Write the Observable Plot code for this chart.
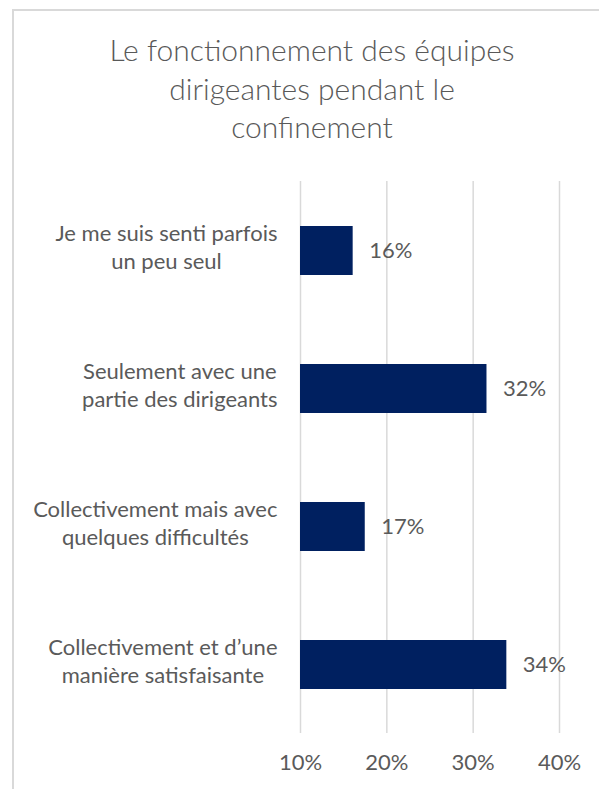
<!DOCTYPE html>
<html>
<head>
<meta charset="utf-8">
<script src="https://cdn.jsdelivr.net/npm/d3@7"></script>
<script src="https://cdn.jsdelivr.net/npm/@observablehq/plot@0.6"></script>
<style>
  html, body { margin: 0; padding: 0; background: #ffffff; }
  #wrap { position: relative; width: 599px; height: 789px; overflow: hidden; background: #fff; }
  #frame { position: absolute; left: 12px; top: 9px; width: 640px; height: 820px; border: 2px solid #d9d9d9; box-sizing: border-box; }
  #title { position: absolute; left: 12px; width: 600px; top: 30px; text-align: center;
           font-family: Lato, "Open Sans", sans-serif; font-weight: 300; font-size: 30px; line-height: 38.5px; color: #595959; }
  #chart { position: absolute; left: 0; top: 170px; }
</style>
</head>
<body>
<div id="wrap">
  <div id="frame"></div>
  <div id="title"></div>
  <div id="chart"></div>
</div>
<script>
const titleLines = ["Le fonctionnement des équipes", "dirigeantes pendant le", "confinement"];
const categories = [
  "Je me suis senti parfois\nun peu seul",
  "Seulement avec une\npartie des dirigeants",
  "Collectivement mais avec\nquelques difficultés",
  "Collectivement et d’une\nmanière satisfaisante"
];
const values = [16.1, 31.6, 17.5, 33.9];
const valueLabels = ["16%", "32%", "17%", "34%"];
const xTicks = [10, 20, 30, 40];
const xTickLabels = ["10%", "20%", "30%", "40%"];
const baseline = 10;

const titleEl = document.getElementById("title");
titleLines.forEach(l => { const d = document.createElement("div"); d.textContent = l; titleEl.appendChild(d); });

const data = categories.map((c, i) => ({category: c, value: values[i], label: valueLabels[i]}));

const chart = Plot.plot({
  width: 599,
  height: 619,
  marginTop: 11,
  marginBottom: 56,
  marginLeft: 300,
  marginRight: 40,
  style: {fontFamily: "Lato, 'Open Sans', sans-serif", fontSize: "22px", color: "#595959", background: "transparent", overflow: "visible"},
  x: {domain: [10, 40], label: null},
  y: {domain: categories, paddingInner: 0.645, paddingOuter: 0.3225, label: null},
  marks: [
    Plot.gridX(xTicks, {stroke: "#d9d9d9", strokeOpacity: 1, strokeWidth: 1.5}),
    Plot.barX(data, {x1: () => baseline, x2: "value", y: "category", fill: "#002060"}),
    Plot.text(data, {x: "value", y: "category", text: "label", dx: 16, textAnchor: "start", fill: "#5a5a5a", fontSize: 22}),
    Plot.axisX(xTicks, {tickSize: 0, tickPadding: 21, tickFormat: d => xTickLabels[xTicks.indexOf(d)], fontSize: 22, fill: "#5a5a5a", label: null}),
    Plot.axisY({tickSize: 0, tickPadding: 23, dy: -5, fontSize: 22, fill: "#5a5a5a", lineHeight: 1.29, label: null})
  ]
});
document.getElementById("chart").appendChild(chart);

function centerLabels() {
  chart.querySelectorAll('g[aria-label="y-axis tick label"] text').forEach(t => {
    const spans = t.querySelectorAll("tspan");
    if (!spans.length) return;
    let w = 0;
    spans.forEach(s => { w = Math.max(w, s.getComputedTextLength()); });
    const x0 = parseFloat(spans[0].getAttribute("x")) || 0;
    t.setAttribute("text-anchor", "middle");
    spans.forEach(s => s.setAttribute("x", x0 - w / 2));
  });
}
centerLabels();
</script>
</body>
</html>
